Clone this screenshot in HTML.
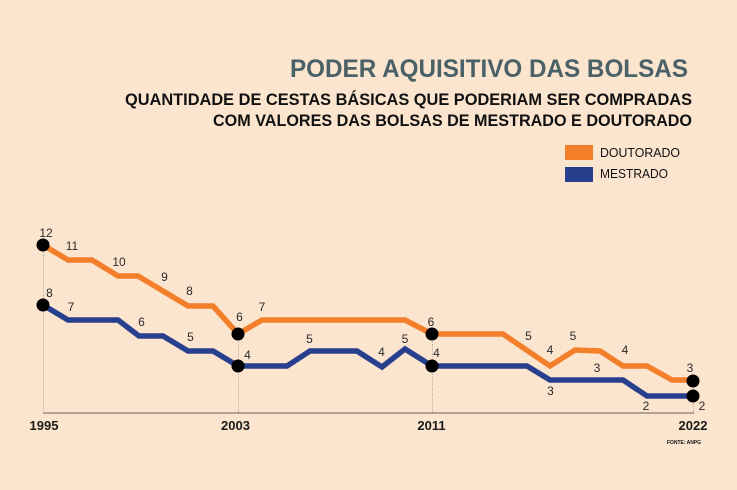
<!DOCTYPE html>
<html><head><meta charset="utf-8"><style>
html,body{margin:0;padding:0;background:#fce5cf;}
svg{display:block;}
text{font-family:"Liberation Sans",sans-serif;}
.n{font-size:12px;fill:#2a2a2a;text-anchor:middle;}
.y{font-size:13px;font-weight:bold;fill:#1a1a1a;text-anchor:middle;}
</style></head><body>
<svg width="737" height="490" viewBox="0 0 737 490" xmlns="http://www.w3.org/2000/svg">
<rect width="737" height="490" fill="#fce5cf"/>
<text x="290" y="77" font-size="25" font-weight="bold" fill="#4a6267" textLength="398" lengthAdjust="spacingAndGlyphs">PODER AQUISITIVO DAS BOLSAS</text>
<text x="125" y="105" font-size="16.5" font-weight="bold" fill="#111" textLength="567" lengthAdjust="spacingAndGlyphs">QUANTIDADE DE CESTAS BÁSICAS QUE PODERIAM SER COMPRADAS</text>
<text x="213" y="126" font-size="16.5" font-weight="bold" fill="#111" textLength="479" lengthAdjust="spacingAndGlyphs">COM VALORES DAS BOLSAS DE MESTRADO E DOUTORADO</text>
<rect x="565" y="145" width="28" height="15" fill="#f47f2b"/>
<rect x="565" y="167" width="28" height="15" fill="#283f8e"/>
<text x="600" y="157" font-size="12.5" fill="#111" textLength="80" lengthAdjust="spacingAndGlyphs">DOUTORADO</text>
<text x="600" y="178" font-size="12.5" fill="#111" textLength="68" lengthAdjust="spacingAndGlyphs">MESTRADO</text>
<g stroke="#a89e95" stroke-width="1" stroke-dasharray="1,1.5">
<line x1="43.5" y1="245" x2="43.5" y2="413"/>
<line x1="238.5" y1="334" x2="238.5" y2="413"/>
<line x1="432.5" y1="334" x2="432.5" y2="413"/>
<line x1="693.5" y1="381" x2="693.5" y2="413"/>
</g>
<line x1="43" y1="413" x2="694" y2="413" stroke="#6b5f55" stroke-width="1"/>
<polyline fill="none" stroke="#f47f2b" stroke-width="5.5" stroke-linejoin="miter" points="43,245 68,260 92,260 118,276 138,276 188,306 213,306 238,334 262,320 405,320 432,334 503,334 550,366 575,350 600,351 623,366 647,366 672,380 693,380"/>
<polyline fill="none" stroke="#283f8e" stroke-width="5.5" stroke-linejoin="miter" points="43,305 68,320 118,320 139,336 163,336 188,351 213,351 238,366 287,366 310,351 357,351 382,367 405,349 432,366 527,366 550,380 623,380 647,396 693,396"/>
<g fill="#000">
<circle cx="43" cy="245" r="6.5"/>
<circle cx="43" cy="305" r="6.5"/>
<circle cx="238" cy="334" r="6.5"/>
<circle cx="238" cy="366" r="6.5"/>
<circle cx="432" cy="334" r="6.5"/>
<circle cx="432" cy="366" r="6.5"/>
<circle cx="693" cy="381" r="6.5"/>
<circle cx="693" cy="396" r="6.5"/>
</g>
<text class="n" x="46" y="237">12</text>
<text class="n" x="72" y="250">11</text>
<text class="n" x="119" y="266">10</text>
<text class="n" x="164.5" y="281">9</text>
<text class="n" x="189.5" y="295">8</text>
<text class="n" x="239.5" y="321">6</text>
<text class="n" x="262" y="311">7</text>
<text class="n" x="431" y="326">6</text>
<text class="n" x="528.5" y="340">5</text>
<text class="n" x="550" y="354">4</text>
<text class="n" x="573" y="340">5</text>
<text class="n" x="625" y="354">4</text>
<text class="n" x="690" y="372">3</text>
<text class="n" x="49.5" y="297">8</text>
<text class="n" x="71" y="311">7</text>
<text class="n" x="141.5" y="326">6</text>
<text class="n" x="190.5" y="341">5</text>
<text class="n" x="247.5" y="359">4</text>
<text class="n" x="309.5" y="343">5</text>
<text class="n" x="381.5" y="356">4</text>
<text class="n" x="405" y="343">5</text>
<text class="n" x="436.5" y="357">4</text>
<text class="n" x="597" y="372">3</text>
<text class="n" x="550.5" y="395">3</text>
<text class="n" x="646" y="410">2</text>
<text class="n" x="702" y="410">2</text>
<text class="y" x="44" y="430">1995</text>
<text class="y" x="235.5" y="430">2003</text>
<text class="y" x="431.5" y="430">2011</text>
<text class="y" x="693" y="430">2022</text>
<text x="667" y="444" font-size="5.5" font-weight="bold" fill="#111" textLength="34" lengthAdjust="spacingAndGlyphs">FONTE: ANPG</text>
</svg>
</body></html>
